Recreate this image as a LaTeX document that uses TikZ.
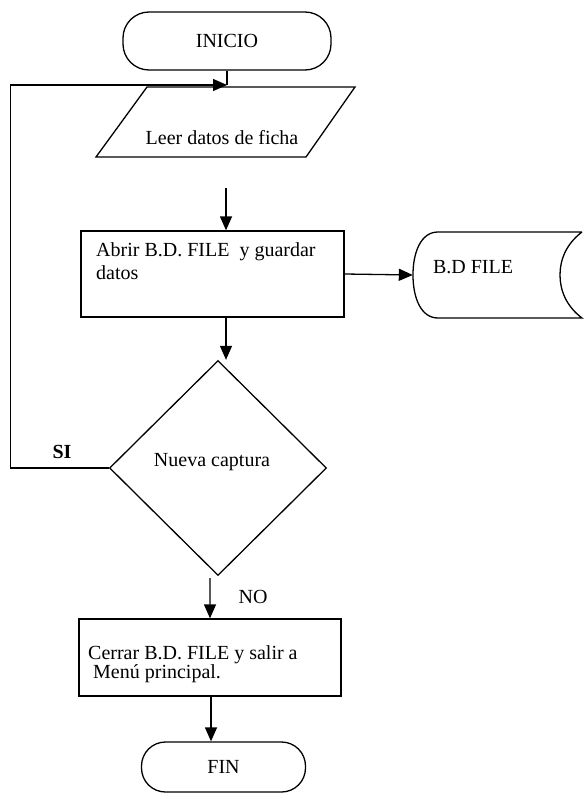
\documentclass[tikz,border=0pt]{standalone}
\usepackage{fontspec}
\setmainfont{Liberation Serif}
\usetikzlibrary{arrows.meta,shapes.geometric,calc}
\begin{document}
\begin{tikzpicture}[x=1bp,y=-1bp,
  every node/.style={font=\fontsize{20bp}{23bp}\selectfont, inner sep=0pt},
  line/.style={line width=1.3bp},
  arr/.style={line width=1.3bp,-{Triangle[length=14bp,width=12bp]}},
  terminal/.style={draw,line width=1.3bp,rectangle,rounded corners=26bp},
  proc/.style={draw,line width=1.3bp,rectangle},
  decision/.style={draw,line width=1.3bp,diamond,aspect=1}]
\useasboundingbox (0,0) rectangle (584,805);

% Start
\node[terminal, minimum width=208bp, minimum height=58bp] (inicio) at (227,41) {INICIO};
\coordinate (j) at (227,85);
\draw[line] (inicio.south) -- (j);

% Input
\draw[line] (147,87) -- (355,87) -- (306,157) -- (96,157) -- cycle;
\node (leer) at (222,138) {Leer datos de ficha};

% Process 1
\node[proc, minimum width=263bp, minimum height=86bp] (abrir) at (212.5,274) {};
\node[anchor=north west, align=left] (abrirtxt) at (96,242) {Abrir B.D. FILE\ \ y guardar\\datos};
\coordinate (a0) at (226,188);
\draw[arr] (a0) -- (a0 |- abrir.north);

% Storage
\node[minimum width=169bp, minimum height=86bp] (bd) at (497.5,275) {};
\draw[line] (582,232) -- (438,232)
  .. controls (421,232) and (413,252) .. (413,275)
  .. controls (413,298) and (421,318) .. (438,318) -- (582,318)
  .. controls (566,306) and (560,290) .. (560,275)
  .. controls (560,260) and (566,244) .. (582,232);
\node (bdtxt) at (473,267) {B.D FILE};
\draw[arr] (abrir.east) -- (bd.west);

% Decision
\node[decision, minimum width=217bp, minimum height=215bp] (dec) at (218,468) {};
\node (nueva) at (212,462) {Nueva captura};
\draw[arr] ([xshift=13.5bp]abrir.south) -- ([xshift=13.5bp]abrir.south |- dec.north);

% Loop back
\draw[arr] (dec.west) -- ++(-98,0) |- (j);
\node[font=\fontsize{20bp}{23bp}\selectfont\bfseries] (si) at (62,452) {SI};

% Process 2
\node[proc, minimum width=262bp, minimum height=77bp] (cerrar) at (210,657.5) {};
\node[anchor=north west, align=left, font=\fontsize{20bp}{19.5bp}\selectfont] (cerrartxt) at (88,645) {Cerrar B.D. FILE y salir a\\\hspace{5bp}Menú principal.};
\draw[arr] ([xshift=-8bp,yshift=-2bp]dec.south) -- (cerrar.north);
\node (no) at (253,597) {NO};

% End
\node[terminal, rounded corners=24bp, minimum width=164bp, minimum height=50bp] (fin) at (223.5,767) {FIN};
\draw[arr] ([xshift=1bp]cerrar.south) -- ([xshift=1bp]cerrar.south |- fin.north);
\end{tikzpicture}
\end{document}
